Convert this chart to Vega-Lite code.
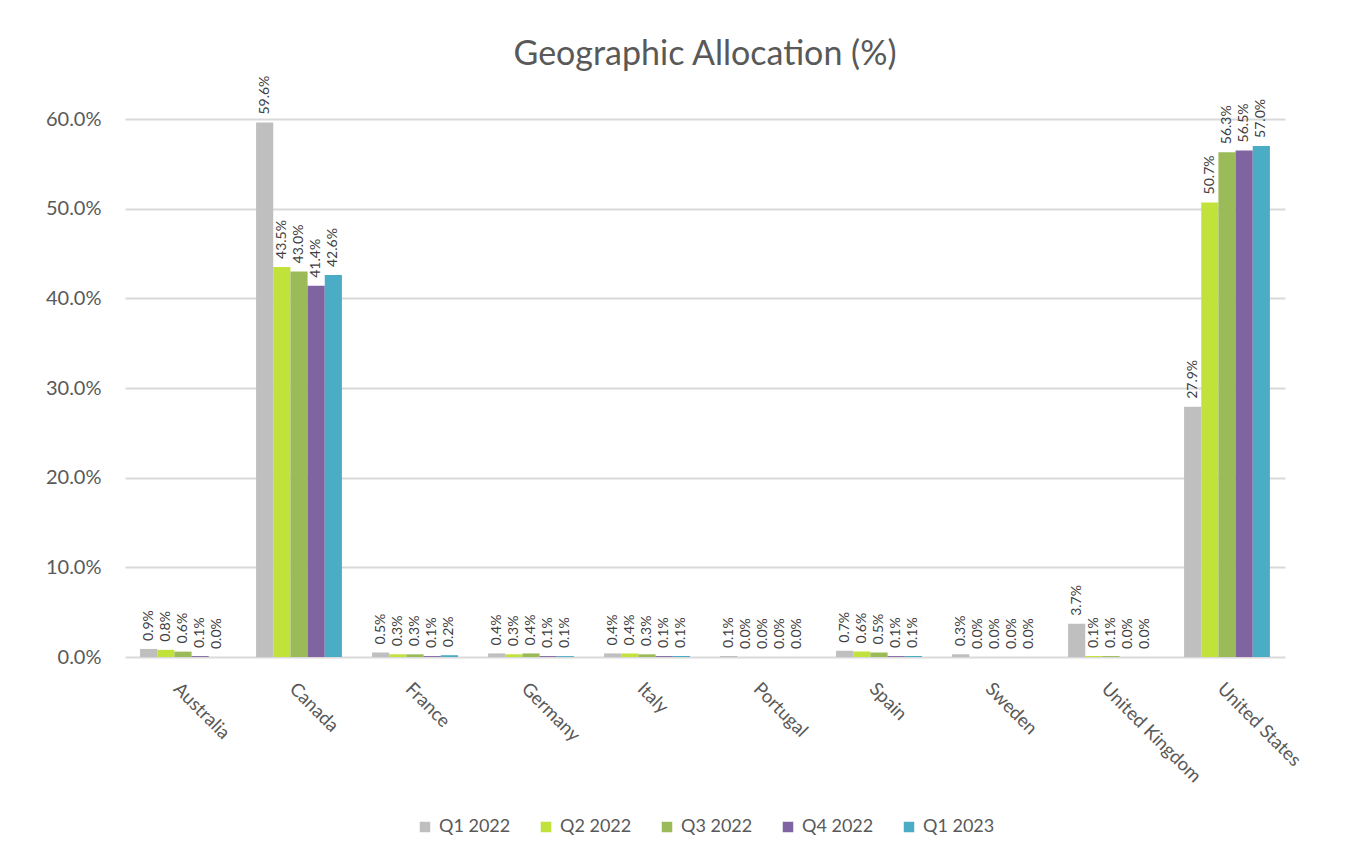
{
  "$schema": "https://vega.github.io/schema/vega-lite/v6.json",
  "autosize": {"type": "none"},
  "width": 1160,
  "height": 538,
  "padding": {"left": 125, "top": 119, "right": 66, "bottom": 211},
  "background": "white",
  "title": {"text": "Geographic Allocation (%)", "font": "Lato", "fontSize": 34, "fontWeight": "normal", "color": "#595959", "offset": 4, "anchor": "middle"},
  "config": {
    "view": {"stroke": null},
    "font": "Lato"
  },
  "data": {"values": [
    {"country": "Australia", "quarter": "Q1 2022", "value": 0.009},
    {"country": "Australia", "quarter": "Q2 2022", "value": 0.008},
    {"country": "Australia", "quarter": "Q3 2022", "value": 0.006},
    {"country": "Australia", "quarter": "Q4 2022", "value": 0.001},
    {"country": "Australia", "quarter": "Q1 2023", "value": 0.0},
    {"country": "Canada", "quarter": "Q1 2022", "value": 0.596},
    {"country": "Canada", "quarter": "Q2 2022", "value": 0.435},
    {"country": "Canada", "quarter": "Q3 2022", "value": 0.430},
    {"country": "Canada", "quarter": "Q4 2022", "value": 0.414},
    {"country": "Canada", "quarter": "Q1 2023", "value": 0.426},
    {"country": "France", "quarter": "Q1 2022", "value": 0.005},
    {"country": "France", "quarter": "Q2 2022", "value": 0.003},
    {"country": "France", "quarter": "Q3 2022", "value": 0.003},
    {"country": "France", "quarter": "Q4 2022", "value": 0.001},
    {"country": "France", "quarter": "Q1 2023", "value": 0.002},
    {"country": "Germany", "quarter": "Q1 2022", "value": 0.004},
    {"country": "Germany", "quarter": "Q2 2022", "value": 0.003},
    {"country": "Germany", "quarter": "Q3 2022", "value": 0.004},
    {"country": "Germany", "quarter": "Q4 2022", "value": 0.001},
    {"country": "Germany", "quarter": "Q1 2023", "value": 0.001},
    {"country": "Italy", "quarter": "Q1 2022", "value": 0.004},
    {"country": "Italy", "quarter": "Q2 2022", "value": 0.004},
    {"country": "Italy", "quarter": "Q3 2022", "value": 0.003},
    {"country": "Italy", "quarter": "Q4 2022", "value": 0.001},
    {"country": "Italy", "quarter": "Q1 2023", "value": 0.001},
    {"country": "Portugal", "quarter": "Q1 2022", "value": 0.001},
    {"country": "Portugal", "quarter": "Q2 2022", "value": 0.0},
    {"country": "Portugal", "quarter": "Q3 2022", "value": 0.0},
    {"country": "Portugal", "quarter": "Q4 2022", "value": 0.0},
    {"country": "Portugal", "quarter": "Q1 2023", "value": 0.0},
    {"country": "Spain", "quarter": "Q1 2022", "value": 0.007},
    {"country": "Spain", "quarter": "Q2 2022", "value": 0.006},
    {"country": "Spain", "quarter": "Q3 2022", "value": 0.005},
    {"country": "Spain", "quarter": "Q4 2022", "value": 0.001},
    {"country": "Spain", "quarter": "Q1 2023", "value": 0.001},
    {"country": "Sweden", "quarter": "Q1 2022", "value": 0.003},
    {"country": "Sweden", "quarter": "Q2 2022", "value": 0.0},
    {"country": "Sweden", "quarter": "Q3 2022", "value": 0.0},
    {"country": "Sweden", "quarter": "Q4 2022", "value": 0.0},
    {"country": "Sweden", "quarter": "Q1 2023", "value": 0.0},
    {"country": "United Kingdom", "quarter": "Q1 2022", "value": 0.037},
    {"country": "United Kingdom", "quarter": "Q2 2022", "value": 0.001},
    {"country": "United Kingdom", "quarter": "Q3 2022", "value": 0.001},
    {"country": "United Kingdom", "quarter": "Q4 2022", "value": 0.0},
    {"country": "United Kingdom", "quarter": "Q1 2023", "value": 0.0},
    {"country": "United States", "quarter": "Q1 2022", "value": 0.279},
    {"country": "United States", "quarter": "Q2 2022", "value": 0.507},
    {"country": "United States", "quarter": "Q3 2022", "value": 0.563},
    {"country": "United States", "quarter": "Q4 2022", "value": 0.565},
    {"country": "United States", "quarter": "Q1 2023", "value": 0.570}
  ]},
  "encoding": {
    "x": {
      "field": "country", "type": "nominal", "sort": null,
      "scale": {"paddingInner": 0.26, "paddingOuter": 0.13},
      "axis": {"title": null, "labelAngle": 45, "labelAlign": "left", "labelBaseline": "top", "labelFontSize": 18.5, "labelColor": "#595959", "labelPadding": 22, "ticks": false, "domain": false, "labelFont": "Lato", "labelLimit": 300}
    },
    "xOffset": {
      "field": "quarter", "type": "nominal", "sort": ["Q1 2022", "Q2 2022", "Q3 2022", "Q4 2022", "Q1 2023"],
      "scale": {"paddingInner": 0, "paddingOuter": 0}
    },
    "y": {
      "field": "value", "type": "quantitative",
      "scale": {"domain": [0, 0.6], "nice": false},
      "axis": {"title": null, "format": ".1%", "values": [0, 0.1, 0.2, 0.3, 0.4, 0.5, 0.6], "labelFontSize": 20, "labelColor": "#595959", "labelPadding": 24, "ticks": false, "domain": false, "gridColor": "#D9D9D9", "gridWidth": 2, "labelFont": "Lato"}
    }
  },
  "layer": [
    {
      "mark": {"type": "bar", "clip": false},
      "encoding": {
        "color": {
          "field": "quarter", "type": "nominal",
          "sort": ["Q1 2022", "Q2 2022", "Q3 2022", "Q4 2022", "Q1 2023"],
          "scale": {"domain": ["Q1 2022", "Q2 2022", "Q3 2022", "Q4 2022", "Q1 2023"], "range": ["#BFBFBF", "#C1E13B", "#9BBB59", "#8064A2", "#4BACC6"]},
          "legend": {"title": null, "orient": "none", "direction": "horizontal", "legendX": 291, "legendY": 699, "symbolType": "square", "symbolSize": 110, "symbolStrokeWidth": 0, "labelFontSize": 18, "labelColor": "#595959", "labelFont": "Lato", "columnPadding": 26, "labelOffset": 5}
        }
      }
    },
    {
      "mark": {"type": "text", "angle": -90, "align": "left", "baseline": "middle", "dx": 8, "fontSize": 14, "color": "#404040", "font": "Lato", "clip": false},
      "encoding": {
        "text": {"field": "value", "type": "quantitative", "format": ".1%"}
      }
    }
  ]
}
